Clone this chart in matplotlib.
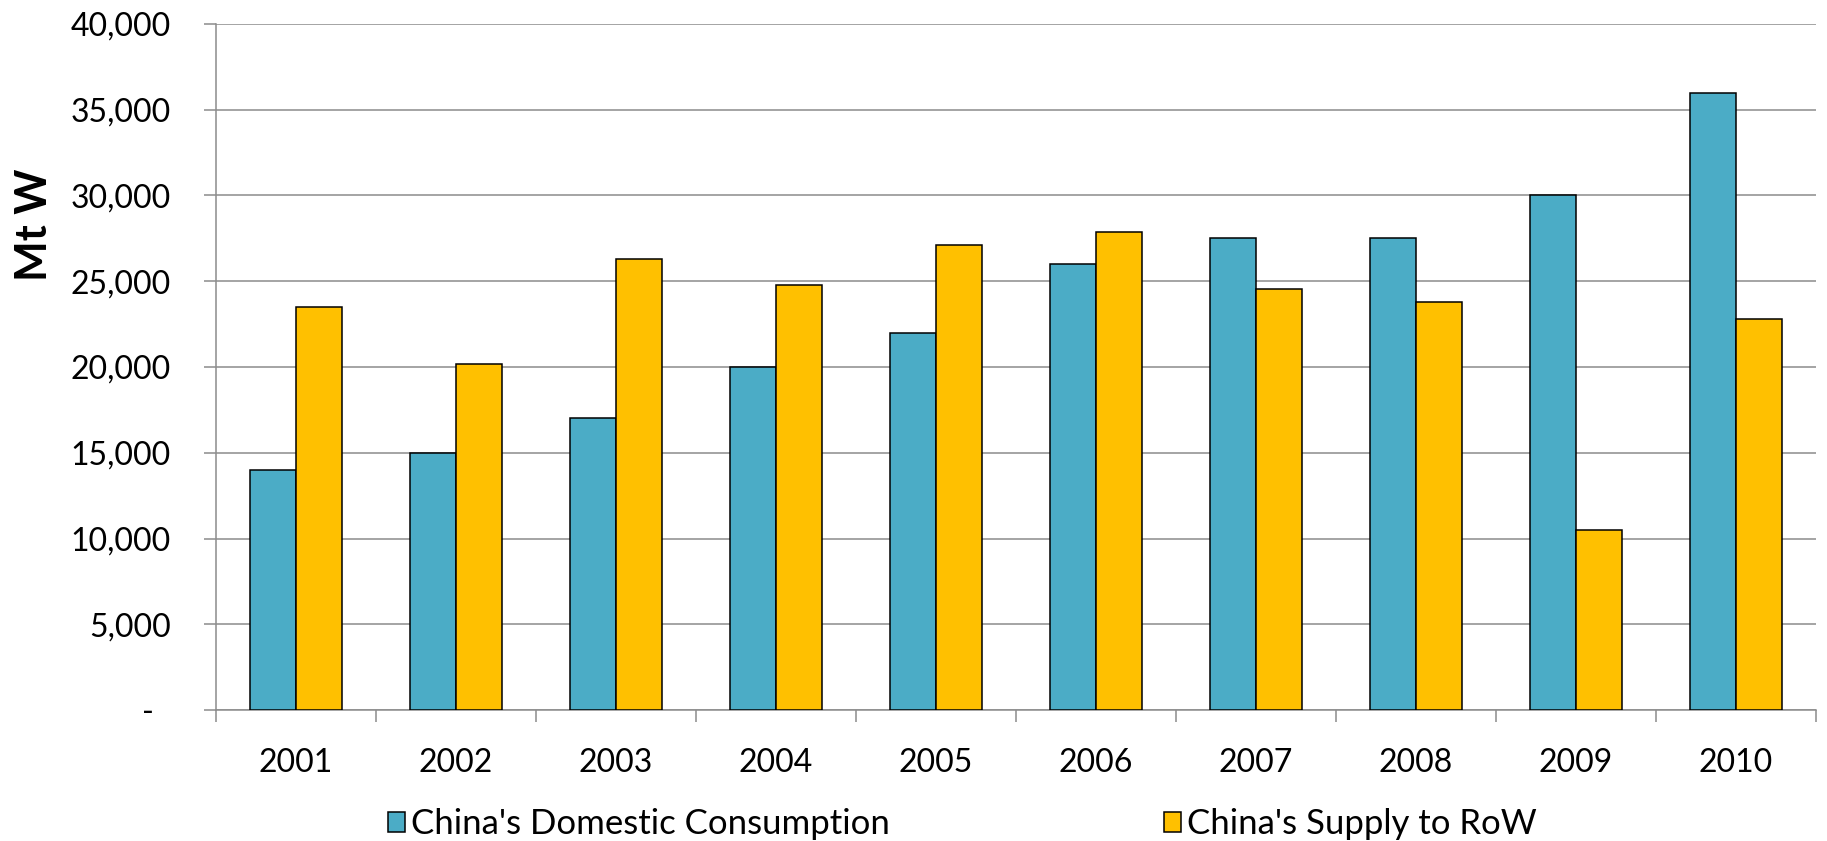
import matplotlib
matplotlib.use("Agg")
import matplotlib.pyplot as plt
import numpy as np
from matplotlib.patches import Patch

years = ["2001", "2002", "2003", "2004", "2005", "2006", "2007", "2008", "2009", "2010"]
domestic = [14000, 15000, 17000, 20000, 22000, 26000, 27500, 27500, 30000, 36000]
supply_row = [23500, 20200, 26300, 24800, 27100, 27900, 24550, 23800, 10500, 22800]
series_names = ["China's Domestic Consumption", "China's Supply to RoW"]
yticks = [0, 5000, 10000, 15000, 20000, 25000, 30000, 35000, 40000]
ytick_labels = ["-  ", "5,000", "10,000", "15,000", "20,000", "25,000", "30,000", "35,000", "40,000"]

teal = "#4BACC6"
gold = "#FFC000"
grid_c = "#8C8C8C"

plt.rcParams['font.family'] = ['Lato', 'DejaVu Sans']

fig = plt.figure(figsize=(18.27, 8.41), dpi=100)
ax = fig.add_axes([216/1827, 1-710/841, 1600/1827, 686/841])

x = np.arange(len(years))
w = 0.286
ax.bar(x - w/2, domestic, w, color=teal, edgecolor="black", linewidth=1.1, zorder=3)
ax.bar(x + w/2, supply_row, w, color=gold, edgecolor="black", linewidth=1.1, zorder=3)

ax.set_xlim(-0.5, len(years) - 0.5)
ax.set_ylim(0, 40000)

ax.set_yticks(yticks)
ax.set_yticklabels(ytick_labels)
ax.tick_params(axis='y', length=8.6, width=1.1, color=grid_c, pad=24, labelsize=23)

ax.set_xticks(np.arange(-0.5, len(years)), minor=False)
ax.set_xticklabels([])
ax.set_xticks(x, minor=True)
ax.set_xticklabels(years, minor=True)
ax.tick_params(axis='x', which='major', length=8.6, width=1.1, color=grid_c)
ax.tick_params(axis='x', which='minor', length=0, pad=27, labelsize=23)

ax.grid(axis='y', color=grid_c, linewidth=1.1, zorder=0)
ax.set_axisbelow(True)
for s in ["top", "right"]:
    ax.spines[s].set_visible(False)
for s in ["left", "bottom"]:
    ax.spines[s].set_color(grid_c)
    ax.spines[s].set_linewidth(1.1)

ax.set_ylabel("Mt W", fontsize=31, fontweight='bold')
ax.yaxis.set_label_coords(-0.101, 0.708)

handles = [Patch(facecolor=teal, edgecolor="black", linewidth=1.1),
           Patch(facecolor=gold, edgecolor="black", linewidth=1.1)]
fig.legend(handles, series_names, loc='center', bbox_to_anchor=(962/1827, 1-824/841),
           ncol=2, frameon=False, fontsize=25, handlelength=0.5, handleheight=0.5,
           handletextpad=0.16, columnspacing=7.9, borderaxespad=0)

fig.savefig("out.png", dpi=100)
